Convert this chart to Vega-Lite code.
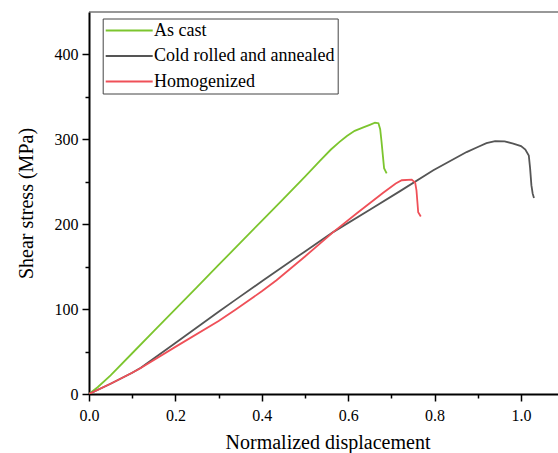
{
  "$schema": "https://vega.github.io/schema/vega-lite/v6.json",
  "autosize": {"type": "none"},
  "padding": {"left": 89, "top": 12, "right": 0, "bottom": 59},
  "width": 469,
  "height": 382,
  "background": "white",
  "config": {
    "view": {"stroke": null},
    "font": "Liberation Serif"
  },
  "datasets": {
    "curves": [
      {"series": "As cast", "x": 0, "y": 0},
      {"series": "As cast", "x": 0.02, "y": 8},
      {"series": "As cast", "x": 0.05, "y": 22},
      {"series": "As cast", "x": 0.1, "y": 48},
      {"series": "As cast", "x": 0.15, "y": 74},
      {"series": "As cast", "x": 0.2, "y": 100},
      {"series": "As cast", "x": 0.25, "y": 126},
      {"series": "As cast", "x": 0.3, "y": 152},
      {"series": "As cast", "x": 0.35, "y": 178},
      {"series": "As cast", "x": 0.4, "y": 204},
      {"series": "As cast", "x": 0.45, "y": 230},
      {"series": "As cast", "x": 0.5, "y": 256},
      {"series": "As cast", "x": 0.535, "y": 275},
      {"series": "As cast", "x": 0.56, "y": 288},
      {"series": "As cast", "x": 0.58, "y": 297},
      {"series": "As cast", "x": 0.597, "y": 304},
      {"series": "As cast", "x": 0.615, "y": 310},
      {"series": "As cast", "x": 0.635, "y": 314},
      {"series": "As cast", "x": 0.65, "y": 317},
      {"series": "As cast", "x": 0.662, "y": 319.5},
      {"series": "As cast", "x": 0.67, "y": 319},
      {"series": "As cast", "x": 0.674, "y": 312},
      {"series": "As cast", "x": 0.677, "y": 298},
      {"series": "As cast", "x": 0.68, "y": 282},
      {"series": "As cast", "x": 0.683, "y": 266},
      {"series": "As cast", "x": 0.689, "y": 260},
      {"series": "Cold rolled and annealed", "x": 0, "y": 0},
      {"series": "Cold rolled and annealed", "x": 0.05, "y": 12},
      {"series": "Cold rolled and annealed", "x": 0.1, "y": 25},
      {"series": "Cold rolled and annealed", "x": 0.12, "y": 31},
      {"series": "Cold rolled and annealed", "x": 0.2, "y": 60},
      {"series": "Cold rolled and annealed", "x": 0.3, "y": 97},
      {"series": "Cold rolled and annealed", "x": 0.338, "y": 110.6},
      {"series": "Cold rolled and annealed", "x": 0.4035, "y": 134},
      {"series": "Cold rolled and annealed", "x": 0.5, "y": 168},
      {"series": "Cold rolled and annealed", "x": 0.566, "y": 191},
      {"series": "Cold rolled and annealed", "x": 0.65, "y": 217},
      {"series": "Cold rolled and annealed", "x": 0.72, "y": 239},
      {"series": "Cold rolled and annealed", "x": 0.797, "y": 263.5},
      {"series": "Cold rolled and annealed", "x": 0.874, "y": 285},
      {"series": "Cold rolled and annealed", "x": 0.9, "y": 291},
      {"series": "Cold rolled and annealed", "x": 0.92, "y": 295.5},
      {"series": "Cold rolled and annealed", "x": 0.94, "y": 298},
      {"series": "Cold rolled and annealed", "x": 0.962, "y": 297.5},
      {"series": "Cold rolled and annealed", "x": 0.982, "y": 295},
      {"series": "Cold rolled and annealed", "x": 1.0, "y": 292},
      {"series": "Cold rolled and annealed", "x": 1.01, "y": 288},
      {"series": "Cold rolled and annealed", "x": 1.018, "y": 281},
      {"series": "Cold rolled and annealed", "x": 1.021, "y": 266},
      {"series": "Cold rolled and annealed", "x": 1.024, "y": 246},
      {"series": "Cold rolled and annealed", "x": 1.027, "y": 236},
      {"series": "Cold rolled and annealed", "x": 1.03, "y": 231},
      {"series": "Homogenized", "x": 0, "y": 0},
      {"series": "Homogenized", "x": 0.05, "y": 12},
      {"series": "Homogenized", "x": 0.1, "y": 25},
      {"series": "Homogenized", "x": 0.118, "y": 30},
      {"series": "Homogenized", "x": 0.2, "y": 55.5},
      {"series": "Homogenized", "x": 0.3, "y": 86},
      {"series": "Homogenized", "x": 0.338, "y": 99},
      {"series": "Homogenized", "x": 0.4, "y": 121},
      {"series": "Homogenized", "x": 0.434, "y": 134},
      {"series": "Homogenized", "x": 0.5, "y": 162},
      {"series": "Homogenized", "x": 0.566, "y": 191},
      {"series": "Homogenized", "x": 0.62, "y": 213},
      {"series": "Homogenized", "x": 0.681, "y": 237},
      {"series": "Homogenized", "x": 0.71, "y": 248},
      {"series": "Homogenized", "x": 0.724, "y": 251.8},
      {"series": "Homogenized", "x": 0.747, "y": 252.5},
      {"series": "Homogenized", "x": 0.755, "y": 249},
      {"series": "Homogenized", "x": 0.758, "y": 240},
      {"series": "Homogenized", "x": 0.76, "y": 227},
      {"series": "Homogenized", "x": 0.762, "y": 214},
      {"series": "Homogenized", "x": 0.768, "y": 209}
    ],
    "frame": [{"top": 450}]
  },
  "layer": [
    {
      "data": {"name": "frame"},
      "mark": {"type": "rule", "color": "#333333", "strokeWidth": 1.2},
      "encoding": {
        "y": {"field": "top", "type": "quantitative", "scale": {"domain": [0, 450], "nice": false}}
      }
    },
    {
      "data": {"name": "curves"},
      "mark": {"type": "line", "strokeWidth": 1.8, "clip": true},
      "encoding": {
        "x": {
          "field": "x",
          "type": "quantitative",
          "scale": {"domain": [0, 1.0856], "nice": false, "zero": false},
          "axis": {
            "title": "Normalized displacement",
            "titleX": 238.5,
            "values": [0, 0.1, 0.2, 0.3, 0.4, 0.5, 0.6, 0.7, 0.8, 0.9, 1.0],
            "labelExpr": "round(datum.value*10)%2===1 ? '' : format(datum.value, '.1f')",
            "tickSize": {"condition": {"test": "round(datum.value*10)%2===1", "value": 4}, "value": 7},
            "tickWidth": 1.5,
            "tickColor": "black",
            "domainColor": "black",
            "domainWidth": 2,
            "grid": false,
            "labelFont": "Liberation Serif",
            "labelFontSize": 16,
            "labelColor": "black",
            "labelPadding": 6,
            "labelFlush": false,
            "labelOverlap": false,
            "titleFont": "Liberation Serif",
            "titleFontSize": 20,
            "titleFontWeight": "normal",
            "titleColor": "black",
            "titlePadding": 9
          }
        },
        "y": {
          "field": "y",
          "type": "quantitative",
          "scale": {"domain": [0, 450], "nice": false},
          "axis": {
            "title": "Shear stress (MPa)",
            "values": [0, 50, 100, 150, 200, 250, 300, 350, 400],
            "labelExpr": "datum.value % 100 === 0 ? format(datum.value, 'd') : ''",
            "tickSize": {"condition": {"test": "datum.value % 100 !== 0", "value": 4}, "value": 7},
            "tickWidth": 1.5,
            "tickColor": "black",
            "domainColor": "black",
            "domainWidth": 2,
            "grid": false,
            "labelFont": "Liberation Serif",
            "labelFontSize": 16,
            "labelColor": "black",
            "labelPadding": 4,
            "labelFlush": false,
            "labelOverlap": false,
            "titleFont": "Liberation Serif",
            "titleFontSize": 20,
            "titleFontWeight": "normal",
            "titleColor": "black",
            "titlePadding": 18
          }
        },
        "color": {
          "field": "series",
          "type": "nominal",
          "scale": {
            "domain": ["As cast", "Cold rolled and annealed", "Homogenized"],
            "range": ["#7cc52e", "#555555", "#ef5058"]
          },
          "legend": {
            "orient": "none",
            "legendX": 13.7,
            "legendY": 6.5,
            "title": null,
            "strokeColor": "#444444",
            "fillColor": "white",
            "padding": 3,
            "symbolType": "M-4.7,0H4.7",
            "symbolSize": 100,
            "symbolStrokeWidth": 2,
            "symbolOffset": 14.5,
            "labelFont": "Liberation Serif",
            "labelFontSize": 18,
            "labelColor": "black",
            "labelOffset": 15.8,
            "rowPadding": 7.5,
            "labelLimit": 400
          }
        }
      }
    }
  ]
}
